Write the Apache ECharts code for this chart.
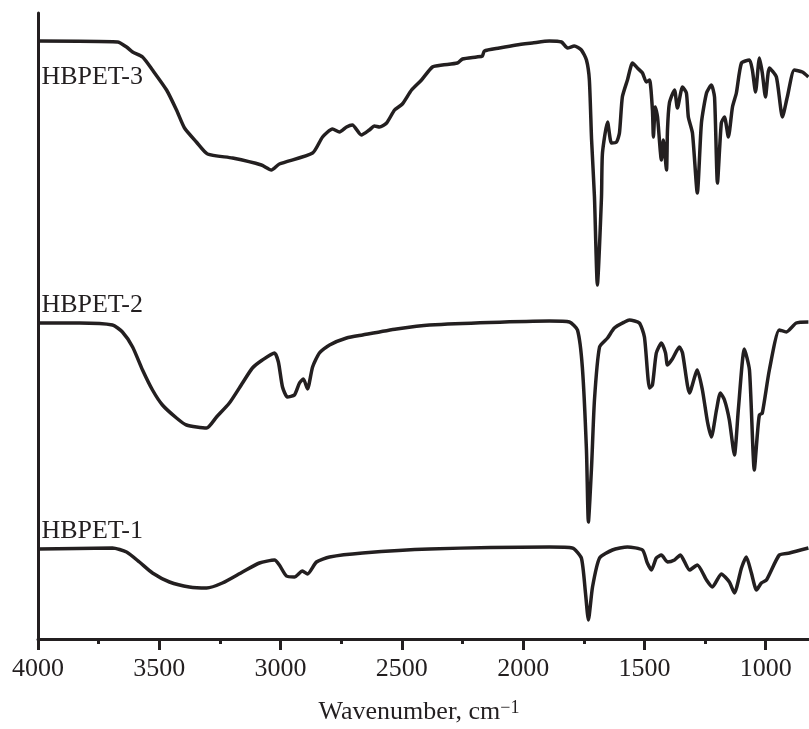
<!DOCTYPE html>
<html>
<head>
    <meta charset="UTF-8">
    <title>FTIR HBPET</title>
    <script type="text/javascript" src="https://cdn.jsdelivr.net/npm/echarts@6/dist/echarts.min.js"></script>
</head>
<body style="margin: 0;overflow: hidden;background: #fff;">
<div id="chart" style="width: 809px;height: 729px;"></div>
<script type="text/javascript">
    // [wavenumber cm-1, intensity a.u.], curves already offset
    var hbpet3 = [
        [4000, 598], [3672, 597], [3635, 592], [3610, 587], [3569, 582], [3528, 569], [3470, 549],
        [3429, 529], [3396, 511], [3347, 497], [3301, 485], [3198, 481], [3079, 474], [3038, 469],
        [3005, 475], [2868, 486], [2827, 502], [2786, 510], [2757, 507], [2728, 512], [2704, 514],
        [2667, 504], [2634, 509], [2613, 513], [2592, 512], [2563, 516], [2530, 529], [2498, 535],
        [2460, 549], [2419, 559], [2374, 572], [2333, 574], [2271, 576], [2250, 580], [2192, 582],
        [2168, 583], [2160, 588], [2098, 591], [2028, 594], [1962, 596], [1892, 598], [1842, 597],
        [1817, 591], [1789, 593], [1760, 589], [1739, 579], [1727, 559], [1718, 500], [1706, 442],
        [1694, 354], [1677, 442], [1673, 486], [1652, 517], [1636, 496], [1615, 497], [1603, 506],
        [1591, 542], [1570, 559], [1549, 576], [1529, 571], [1508, 566], [1492, 557], [1479, 559],
        [1467, 529], [1463, 502], [1455, 532], [1446, 522], [1430, 479], [1422, 499], [1409, 469],
        [1405, 509], [1397, 536], [1376, 549], [1364, 531], [1343, 552], [1327, 546], [1319, 522],
        [1302, 506], [1282, 446], [1265, 516], [1244, 546], [1224, 554], [1211, 542], [1199, 456],
        [1183, 516], [1170, 522], [1154, 502], [1137, 532], [1121, 546], [1100, 576], [1067, 579],
        [1055, 569], [1042, 547], [1026, 581], [1014, 566], [1001, 542], [985, 571], [956, 562],
        [931, 522], [911, 542], [882, 569], [849, 567], [824, 562]
    ];
    var hbpet2 = [
        [4000, 316], [3829, 316], [3693, 314], [3652, 307], [3610, 292], [3569, 269], [3528, 249],
        [3487, 234], [3429, 221], [3388, 214], [3305, 211], [3264, 222], [3211, 236], [3157, 256],
        [3116, 271], [3075, 279], [3025, 286], [3009, 277], [2992, 252], [2972, 242], [2943, 244],
        [2922, 256], [2906, 260], [2889, 250], [2868, 272], [2840, 286], [2798, 294], [2728, 301],
        [2662, 304], [2522, 310], [2386, 314], [1892, 318], [1809, 317], [1776, 309], [1756, 272],
        [1739, 189], [1731, 117], [1718, 172], [1706, 239], [1685, 292], [1652, 301], [1624, 311],
        [1582, 317], [1562, 319], [1521, 316], [1500, 302], [1479, 251], [1467, 254], [1451, 286],
        [1430, 296], [1413, 286], [1405, 274], [1385, 280], [1356, 292], [1343, 286], [1314, 246],
        [1282, 269], [1261, 249], [1240, 217], [1224, 202], [1203, 229], [1187, 246], [1170, 239],
        [1150, 219], [1129, 184], [1113, 229], [1088, 290], [1067, 269], [1047, 169], [1034, 206],
        [1026, 224], [1014, 226], [985, 269], [944, 309], [915, 307], [874, 316], [824, 317]
    ];
    var hbpet1 = [
        [4000, 90], [3693, 91], [3635, 87], [3582, 77], [3528, 66], [3458, 57], [3376, 52],
        [3305, 51], [3240, 56], [3157, 67], [3087, 76], [3025, 79], [3005, 74], [2976, 63],
        [2943, 62], [2910, 68], [2889, 65], [2852, 77], [2798, 82], [2662, 86], [2386, 90],
        [1892, 92], [1797, 91], [1760, 81], [1743, 46], [1731, 19], [1714, 52], [1685, 81],
        [1632, 89], [1570, 92], [1508, 89], [1488, 76], [1471, 69], [1451, 81], [1430, 84],
        [1405, 77], [1376, 79], [1352, 84], [1314, 69], [1282, 74], [1244, 59], [1220, 52],
        [1183, 65], [1150, 57], [1129, 46], [1100, 71], [1080, 82], [1059, 66], [1038, 49],
        [1018, 56], [997, 59], [944, 84], [902, 86], [824, 91]
    ];
    var names = ['HBPET-3', 'HBPET-2', 'HBPET-1'];
    var labelAt = [[3986, 549], [3986, 321], [3986, 95]];
    var xTicks = {min: 500, max: 4000, interval: 500};

    var ink = '#231f20';
    var font = 'Liberation Serif, Times New Roman, serif';
    var chart = echarts.init(document.getElementById('chart'));

    var series = [hbpet3, hbpet2, hbpet1].map(function (data, i) {
        return {
            name: names[i],
            type: 'line',
            data: data,
            smooth: 0.2,
            showSymbol: false,
            lineStyle: {color: ink, width: 3.5},
            markPoint: {
                symbol: 'circle',
                symbolSize: 0,
                data: [{coord: labelAt[i]}],
                label: {
                    show: true,
                    position: [0, 0],
                    align: 'left',
                    verticalAlign: 'bottom',
                    formatter: names[i],
                    color: ink,
                    fontFamily: font,
                    fontSize: 26
                }
            }
        };
    });

    chart.setOption({
        animation: false,
        backgroundColor: '#fff',
        grid: {left: 38, right: -78, top: 13, bottom: 90, outerBoundsMode: 'none', containLabel: false},
        xAxis: {
            type: 'value',
            inverse: true,
            min: xTicks.min,
            max: xTicks.max,
            interval: xTicks.interval,
            axisLine: {lineStyle: {color: ink, width: 3}},
            axisTick: {length: 11, lineStyle: {color: ink, width: 3}},
            minorTick: {show: true, splitNumber: 2, length: 5, lineStyle: {color: ink, width: 3}},
            splitLine: {show: false},
            axisLabel: {
                color: ink, fontFamily: font, fontSize: 26, margin: 17,
                formatter: function (v) { return String(v); }
            }
        },
        yAxis: {
            type: 'value',
            min: 0,
            max: 626,
            axisLine: {show: true, lineStyle: {color: ink, width: 3}},
            axisTick: {show: false},
            axisLabel: {show: false},
            splitLine: {show: false}
        },
        graphic: [{
            type: 'text',
            x: 419,
            y: 699,
            style: {
                text: 'Wavenumber, cm{sup|−1}',
                fill: ink,
                font: '26px ' + font,
                textAlign: 'center',
                rich: {sup: {fontSize: 18, fontFamily: font, verticalAlign: 'top', fill: ink}}
            }
        }],
        series: series
    });
</script>
</body>
</html>
